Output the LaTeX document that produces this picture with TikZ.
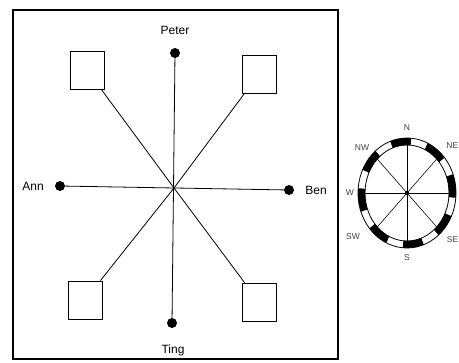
\documentclass[tikz,border=0pt]{standalone}
\usepackage{fontspec}
\setmainfont{Liberation Sans}
\begin{document}
\begin{tikzpicture}[x=1pt,y=-1pt,
  dot/.style={circle,fill=black,inner sep=0pt,minimum size=10pt},
  sq/.style={draw,minimum width=34pt,minimum height=38pt,inner sep=0pt,line width=0.8pt},
  lbl/.style={font=\fontsize{12}{12}\selectfont,inner sep=0pt},
  clbl/.style={font=\fontsize{8.5}{8.5}\selectfont,inner sep=0pt,text=black!75},
  ln/.style={line width=0.8pt}]
\useasboundingbox (0,0) rectangle (459,363);
\draw[line width=1.4pt] (13,10) rectangle (338,359);
\coordinate (c) at (174,188);
\node[dot] (peter) at (175,53) {};
\node[dot] (ting) at (172,323) {};
\node[dot] (ann) at (60,186) {};
\node[dot] (ben) at (289,190) {};
\node[lbl] (tpeter) at (175,30) {Peter};
\node[lbl] (tting) at (173,350) {Ting};
\node[lbl] (tann) at (33,186) {Ann};
\node[lbl] (tben) at (316,190) {Ben};
\node[sq] (b1) at (87,70) {};
\node[sq] (b2) at (259,74) {};
\node[sq] (b3) at (85,300) {};
\node[sq] (b4) at (259,302) {};
\draw[ln] (peter) -- (ting);
\draw[ln] (ann) -- (ben);
\draw[ln] (b1) -- (c) -- (b4);
\draw[ln] (b2) -- (c) -- (b3);
% compass
\begin{scope}[shift={(407,193)},yscale=-1]
  \foreach \a in {0,45,...,315}{
    \fill (\a-5:49 and 55) arc[start angle=\a-5,end angle=\a+20,x radius=49,y radius=55]
      -- (\a+20:42 and 48) arc[start angle=\a+20,end angle=\a-5,x radius=42,y radius=48] -- cycle;
    \draw[line width=0.6pt] (0,0) -- (\a:42 and 48);
  }
  \draw[line width=0.8pt] (0,0) ellipse[x radius=49,y radius=55];
  \draw[line width=0.8pt] (0,0) ellipse[x radius=42,y radius=48];
  \fill (0,0) circle[radius=2.2];
\end{scope}
\node[clbl] (cn) at (407,128) {N};
\node[clbl] (cnw) at (362,148) {NW};
\node[clbl] (cw) at (350,193) {W};
\node[clbl] (csw) at (353,237) {SW};
\node[clbl] (cs) at (407,258) {S};
\node[clbl,anchor=east] (cne) at (458.5,146) {NE};
\node[clbl,anchor=east] (cse) at (458.5,240) {SE};
\end{tikzpicture}
\end{document}
